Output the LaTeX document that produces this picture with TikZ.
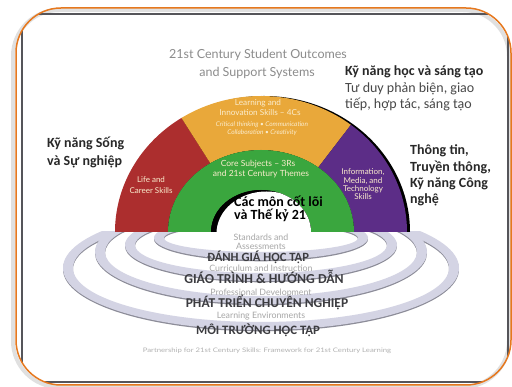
\documentclass[tikz,border=0pt]{standalone}
\usepackage{fontspec}
\setmainfont{Carlito}
\newfontfamily\gillfont{Lato}
\usetikzlibrary{calc}
\definecolor{archred}{RGB}{172,46,46}
\definecolor{archorange}{RGB}{233,168,58}
\definecolor{archgreen}{RGB}{58,166,62}
\definecolor{archpurple}{RGB}{92,45,135}
\definecolor{ringfill}{RGB}{212,212,228}
\definecolor{ringshade}{RGB}{140,140,152}
\definecolor{frameorange}{RGB}{230,120,30}
\definecolor{framegray}{RGB}{85,85,90}
\definecolor{titlegray}{RGB}{140,140,140}
\definecolor{vdark}{RGB}{40,40,40}
\definecolor{capgray}{RGB}{60,60,64}
\definecolor{cream}{RGB}{250,236,205}
\tikzset{
 vbold/.style={font=\bfseries\fontsize{14}{16}\selectfont, text=vdark, inner sep=0pt, anchor=base west},
 vreg/.style={font=\fontsize{14}{16}\selectfont, text=vdark!85, inner sep=0pt, anchor=base west},
 titletxt/.style={font=\gillfont\fontsize{12.5}{14}\selectfont, text=titlegray, inner sep=0pt, anchor=base},
 segtxt/.style={font=\gillfont\fontsize{8.2}{9}\selectfont, text=cream, inner sep=0pt, anchor=base},
 segit/.style={font=\gillfont\itshape\fontsize{6.5}{7}\selectfont, text=cream, inner sep=0pt, anchor=base},
 ringtxt/.style={font=\gillfont\fontsize{8.8}{10}\selectfont, text=gray!70, inner sep=0pt, anchor=base},
 captxt/.style={text=capgray, inner sep=0pt, anchor=base},
}
\begin{document}
\begin{tikzpicture}[x=1pt,y=1pt]
\useasboundingbox (0,0) rectangle (512,387);
\fill[white] (0,0) rectangle (512,387);
% frame
\draw[black!12, line width=4, rounded corners=46] (13,0) rectangle (509,377);
\begin{scope}
 \clip[rounded corners=45] (16,2) rectangle (511,379);
 \draw[framegray, line width=1.6] (22,5) rectangle (508,373);
\end{scope}
\draw[frameorange, line width=1.5, rounded corners=45] (16,2) rectangle (511,379);
% rings
\coordinate (C) at (261,155);
\begin{scope}
 \clip (0,0) rectangle (512,155);
 \foreach \cy/\rx/\ry in {119/198/62, 135/166/52, 142/136/36, 149/107/22} {
  \fill[ringshade, even odd rule] (261,\cy-1.3) ellipse[x radius=\rx, y radius=\ry] (261,\cy-1.3) ellipse[x radius=\rx-10, y radius=\ry-8];
  \fill[ringfill, even odd rule] (261,\cy) ellipse[x radius=\rx, y radius=\ry] (261,\cy) ellipse[x radius=\rx-10, y radius=\ry-8];
 }
\end{scope}
% arch
\fill[black] ($(C)+(149,0)$) arc[start angle=0, end angle=180, x radius=146, y radius=136] -- cycle;
\fill[archred] ($(C)+(-146,0)$) arc[start angle=180, end angle=123, x radius=146, y radius=136]
  -- ($(C)+(123:93 and 82)$) arc[start angle=123, end angle=180, x radius=93, y radius=82] -- cycle;
\fill[archorange] ($(C)+(123:146 and 136)$) arc[start angle=123, end angle=52, x radius=146, y radius=136]
  -- ($(C)+(52:93 and 82)$) arc[start angle=52, end angle=123, x radius=93, y radius=82] -- cycle;
\fill[archpurple] ($(C)+(52:146 and 136)$) arc[start angle=52, end angle=0, x radius=146, y radius=136]
  -- ($(C)+(93,0)$) arc[start angle=0, end angle=52, x radius=93, y radius=82] -- cycle;
\fill[archgreen] ($(C)+(-93,0)$) arc[start angle=180, end angle=0, x radius=93, y radius=82]
  -- ($(C)+(50,0)$) arc[start angle=0, end angle=180, x radius=50, y radius=42] -- cycle;
\begin{scope}
 \clip ($(C)+(-50,0)$) arc[start angle=180, end angle=0, x radius=50, y radius=42] -- cycle;
 \fill[black] (205,155) rectangle (315,205);
 \fill[white] ($(C)+(5.5,-1.5)$) ellipse[x radius=50, y radius=42];
\end{scope}
% title
\node[titletxt] (t1) at (258,328) {21st Century Student Outcomes};
\node[titletxt] (t2) at (257,310) {and Support Systems};
% segment labels
\node[segtxt] (o1) at (258,281) {Learning and};
\node[segtxt] (o2) at (260,271) {Innovation Skills – 4Cs};
\node[segit] (o3) at (262,260) {Critical thinking • Communication};
\node[segit] (o4) at (262,252) {Collaboration • Creativity};
\node[segtxt, font=\gillfont\fontsize{8}{9}\selectfont] (r1) at (151,204) {Life and};
\node[segtxt, font=\gillfont\fontsize{8}{9}\selectfont] (r2) at (151,193) {Career Skills};
\node[segtxt, font=\gillfont\fontsize{8.5}{9}\selectfont] (g1) at (258,220) {Core Subjects – 3Rs};
\node[segtxt, font=\gillfont\fontsize{8.5}{9}\selectfont] (g2) at (261,210) {and 21st Century Themes};
\node[segtxt, font=\gillfont\fontsize{8}{9}\selectfont] (p1) at (363,212) {Information,};
\node[segtxt, font=\gillfont\fontsize{8}{9}\selectfont] (p2) at (363,203) {Media, and};
\node[segtxt, font=\gillfont\fontsize{8}{9}\selectfont] (p3) at (363,195) {Technology};
\node[segtxt, font=\gillfont\fontsize{8}{9}\selectfont] (p4) at (363,187) {Skills};
% vietnamese side labels
\node[vbold] (k1) at (345,311) {Kỹ năng học và sáng tạo};
\node[vreg] (k2) at (345,294) {Tư duy phản biện, giao};
\node[vreg] (k3) at (345,278) {tiếp, hợp tác, sáng tạo};
\node[vbold] (s1) at (47,239) {Kỹ năng Sống};
\node[vbold] (s2) at (47,221) {và Sự nghiệp};
\node[vbold] (i1) at (410,232) {Thông tin,};
\node[vbold] (i2) at (410,215) {Truyền thông,};
\node[vbold] (i3) at (410,199) {Kỹ năng Công};
\node[vbold] (i4) at (410,183) {nghệ};
\node[vbold, text=black] (c1) at (234,180) {Các môn cốt lõi};
\node[vbold, text=black] (c2) at (234,167) {và Thế kỷ 21};
% ring labels
\node[ringtxt] (e1) at (261,146) {Standards and};
\node[ringtxt] (e2) at (261,137) {Assessments};
\node[ringtxt] (e3) at (261,115) {Curriculum and Instruction};
\node[ringtxt] (e4) at (261,91) {Professional Development};
\node[ringtxt] (e5) at (261,68) {Learning Environments};
\node[captxt, font=\bfseries\fontsize{12.6}{14}\selectfont] (v1) at (258,125) {ĐÁNH GIÁ HỌC TẬP};
\node[captxt, font=\bfseries\fontsize{13.7}{15}\selectfont] (v2) at (264,103) {GIÁO TRÌNH \& HƯỚNG DẪN};
\node[captxt, font=\bfseries\fontsize{13.5}{15}\selectfont] (v3) at (267,79) {PHÁT TRIỂN CHUYÊN NGHIỆP};
\node[captxt, font=\bfseries\fontsize{12.8}{14}\selectfont] (v4) at (258,52) {MÔI TRƯỜNG HỌC TẬP};
% footer
\node[ringtxt, font=\gillfont\fontsize{6.2}{7}\selectfont, text=gray!60, xscale=1.25] (f1) at (267,34) {Partnership for 21st Century Skills: Framework for 21st Century Learning};
\end{tikzpicture}
\end{document}
